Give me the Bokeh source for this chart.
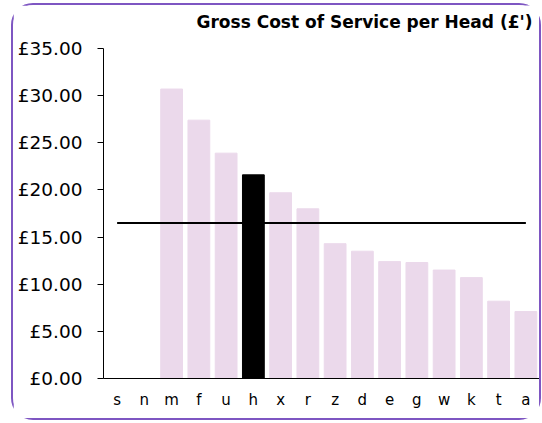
from bokeh.plotting import figure
from bokeh.models import ColumnDataSource, FactorRange, PrintfTickFormatter, Range1d, Label
from bokeh.embed import file_html
from bokeh.resources import INLINE

# ---- data ----
categories = ["s", "n", "m", "f", "u", "h", "x", "r", "z", "d", "e", "g", "w", "k", "t", "a"]
cost_per_head = [None, None, 30.7, 27.4, 23.9, 21.6, 19.7, 18.0, 14.3, 13.5, 12.4, 12.3, 11.5, 10.7, 8.2, 7.1]
highlight = "h"
average_cost = 16.5
title_text = "Gross Cost of Service per Head (£')"
y_ticks = [0, 5, 10, 15, 20, 25, 30, 35]
y_top = 35

BAR = "#EBD9EB"
HI = "#000000"
FONT = "DejaVu Sans"

W, H = 530, 417
ML, MR, MB = 90, 4, 44
AXIS_TOP_PX = 43           # distance from canvas top to the £35 tick
frame_w = W - ML - MR
frame_h = H - MB
y_max = y_top * frame_h / (frame_h - AXIS_TOP_PX)

xs = [c for c, v in zip(categories, cost_per_head) if v is not None]
tops = [v for v in cost_per_head if v is not None]
colors = [HI if c == highlight else BAR for c in xs]
src = ColumnDataSource(dict(x=xs, top=tops, color=colors))

p = figure(
    width=W, height=H,
    x_range=FactorRange(*categories, range_padding=0),
    y_range=Range1d(0, y_max),
    output_backend="svg", toolbar_location=None,
    min_border_left=ML, min_border_right=MR, min_border_top=0, min_border_bottom=MB,
)
p.styles = {"border": "2px solid #7E56C2", "border-radius": "22px",
            "margin-left": "11px", "margin-top": "3px"}

p.vbar(x="x", top="top", width=0.8, color="color", source=src)
p.line(x=[categories[0], categories[-1]], y=[average_cost, average_cost], line_color="black", line_width=2)

title = Label(x=frame_w - 7, y=frame_h - 16, x_units="screen", y_units="screen",
              text=title_text, text_align="right", text_baseline="middle",
              text_font=FONT, text_font_style="bold", text_font_size="17px",
              text_color="black")
p.add_layout(title)

p.xgrid.visible = False
p.ygrid.visible = False
p.outline_line_color = None

p.yaxis.ticker = y_ticks
p.yaxis.bounds = (0, y_top)
p.yaxis.formatter = PrintfTickFormatter(format="£%.2f")
p.yaxis.major_label_text_font = FONT
p.yaxis.major_label_text_font_size = "18.5px"
p.yaxis.major_label_text_color = "black"
p.yaxis.major_tick_out = 6
p.yaxis.major_tick_in = 0
p.yaxis.minor_tick_out = 0
p.yaxis.minor_tick_in = 0
p.yaxis.major_label_standoff = 15
p.yaxis.axis_line_color = "black"
p.yaxis.major_tick_line_color = "black"

p.xaxis.major_tick_out = 0
p.xaxis.major_tick_in = 0
p.xaxis.major_label_text_font = FONT
p.xaxis.major_label_text_font_size = "15px"
p.xaxis.major_label_text_color = "black"
p.xaxis.major_label_standoff = 12
p.xaxis.axis_line_color = "black"

open("out.html", "w").write(file_html(p, INLINE))
